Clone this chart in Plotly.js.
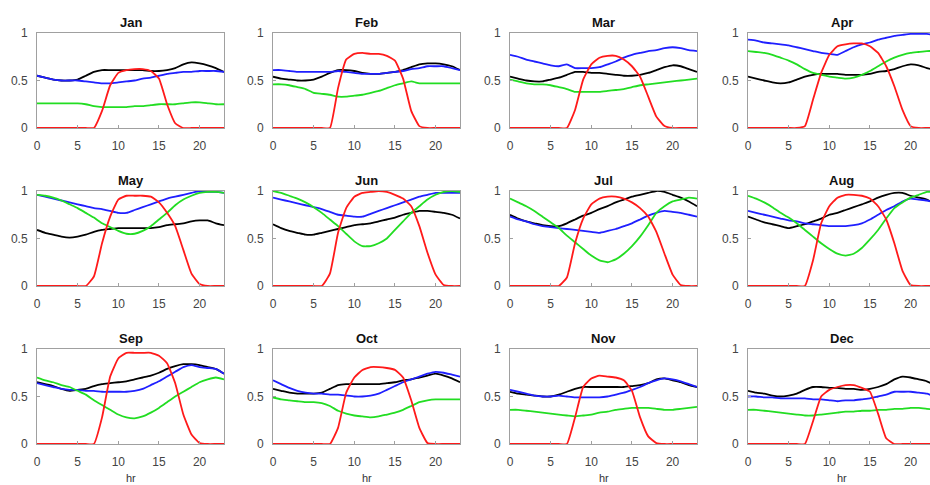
<!DOCTYPE html>
<html>
<head>
<meta charset="utf-8">
<script src="https://cdn.plot.ly/plotly-3.0.1.min.js"></script>
<style>
html,body{margin:0;padding:0;overflow:hidden;background:#fff;}
#chart{width:940px;height:485px;}
</style>
</head>
<body>
<div id="chart"></div>
<script>
const hours = [0,1,2,3,4,5,6,7,8,9,10,11,12,13,14,15,16,17,18,19,20,21,22,23];
const months = ['Jan','Feb','Mar','Apr','May','Jun','Jul','Aug','Sep','Oct','Nov','Dec'];
const xTicks = [0,5,10,15,20];
const yTicks = [0,0.5,1];
const yTickText = ['0','0.5','1'];
const xLabel = 'hr';

const jan_black = [0.55,0.53,0.51,0.50,0.50,0.51,0.55,0.59,0.61,0.61,0.61,0.61,0.61,0.61,0.60,0.60,0.61,0.63,0.67,0.69,0.68,0.66,0.63,0.59];
const jan_blue  = [0.55,0.53,0.51,0.50,0.50,0.50,0.49,0.48,0.47,0.47,0.48,0.49,0.50,0.52,0.53,0.55,0.57,0.58,0.59,0.59,0.60,0.60,0.60,0.59];
const jan_green = [0.26,0.26,0.26,0.26,0.26,0.26,0.25,0.23,0.22,0.22,0.22,0.22,0.23,0.23,0.24,0.25,0.25,0.25,0.26,0.27,0.27,0.26,0.25,0.25];
const jan_red   = [0,0,0,0,0,0,0,0,0.18,0.45,0.58,0.61,0.62,0.62,0.60,0.52,0.25,0.05,0,0,0,0,0,0];

const feb_black = [0.54,0.52,0.51,0.50,0.50,0.51,0.54,0.58,0.61,0.61,0.60,0.58,0.57,0.57,0.58,0.59,0.61,0.64,0.67,0.68,0.68,0.67,0.65,0.61];
const feb_blue  = [0.61,0.61,0.60,0.59,0.59,0.59,0.59,0.59,0.60,0.59,0.58,0.57,0.57,0.57,0.58,0.59,0.60,0.62,0.63,0.65,0.65,0.65,0.63,0.61];
const feb_green = [0.46,0.46,0.45,0.43,0.41,0.37,0.36,0.35,0.33,0.33,0.34,0.35,0.37,0.39,0.42,0.45,0.47,0.49,0.47,0.47,0.47,0.47,0.47,0.47];
const feb_red   = [0,0,0,0,0,0,0,0,0.42,0.72,0.78,0.79,0.78,0.78,0.76,0.71,0.52,0.18,0.02,0,0,0,0,0];

const mar_black = [0.54,0.52,0.50,0.49,0.49,0.51,0.53,0.56,0.59,0.59,0.58,0.58,0.57,0.56,0.55,0.55,0.56,0.58,0.61,0.64,0.66,0.65,0.62,0.59];
const mar_blue  = [0.77,0.75,0.72,0.70,0.68,0.66,0.65,0.67,0.63,0.63,0.63,0.64,0.67,0.70,0.74,0.77,0.79,0.81,0.82,0.84,0.85,0.84,0.82,0.81];
const mar_green = [0.51,0.49,0.47,0.46,0.46,0.45,0.43,0.41,0.38,0.38,0.38,0.38,0.39,0.40,0.41,0.43,0.45,0.46,0.47,0.48,0.49,0.50,0.51,0.52];
const mar_red   = [0,0,0,0,0,0,0,0,0.19,0.51,0.67,0.74,0.76,0.76,0.72,0.65,0.54,0.33,0.12,0.02,0,0,0,0];

const apr_black = [0.54,0.52,0.50,0.48,0.47,0.48,0.51,0.54,0.56,0.57,0.57,0.57,0.56,0.56,0.56,0.57,0.59,0.60,0.62,0.65,0.67,0.66,0.63,0.61];
const apr_blue  = [0.93,0.92,0.90,0.89,0.88,0.87,0.85,0.83,0.81,0.79,0.78,0.77,0.81,0.85,0.88,0.90,0.93,0.95,0.97,0.98,0.99,0.99,0.99,0.98];
const apr_green = [0.81,0.80,0.79,0.77,0.74,0.71,0.67,0.62,0.58,0.56,0.54,0.53,0.52,0.53,0.56,0.60,0.65,0.70,0.74,0.77,0.79,0.80,0.81,0.81];
const apr_red   = [0,0,0,0,0,0,0,0.02,0.30,0.58,0.77,0.86,0.88,0.89,0.89,0.86,0.79,0.65,0.44,0.19,0.02,0,0,0];

const may_black = [0.59,0.56,0.54,0.52,0.51,0.52,0.54,0.57,0.59,0.60,0.61,0.61,0.61,0.61,0.61,0.62,0.64,0.65,0.66,0.68,0.69,0.69,0.66,0.64];
const may_blue  = [0.96,0.94,0.92,0.90,0.88,0.86,0.84,0.82,0.81,0.79,0.77,0.77,0.80,0.83,0.86,0.89,0.92,0.94,0.96,0.98,1.00,0.99,0.99,0.98];
const may_green = [0.96,0.95,0.93,0.90,0.86,0.82,0.77,0.72,0.66,0.62,0.58,0.55,0.55,0.58,0.63,0.70,0.77,0.85,0.91,0.95,0.98,0.99,0.99,0.98];
const may_red   = [0,0,0,0,0,0,0,0.10,0.45,0.73,0.91,0.95,0.95,0.95,0.94,0.88,0.77,0.63,0.38,0.13,0.02,0,0,0];

const jun_black = [0.65,0.61,0.58,0.56,0.54,0.54,0.56,0.58,0.60,0.62,0.64,0.65,0.66,0.68,0.70,0.72,0.75,0.77,0.79,0.79,0.78,0.77,0.75,0.71];
const jun_blue  = [0.93,0.91,0.89,0.87,0.85,0.83,0.81,0.78,0.75,0.74,0.73,0.73,0.76,0.79,0.82,0.85,0.88,0.91,0.94,0.96,0.98,0.98,0.98,0.98];
const jun_green = [1.00,0.98,0.95,0.92,0.88,0.83,0.77,0.70,0.63,0.55,0.47,0.42,0.42,0.45,0.50,0.59,0.68,0.77,0.84,0.91,0.96,0.99,1.00,0.99];
const jun_red   = [0,0,0,0,0,0,0,0.13,0.56,0.82,0.94,0.98,0.99,1.00,0.99,0.96,0.92,0.84,0.63,0.35,0.12,0.01,0,0];

const jul_black = [0.75,0.71,0.68,0.66,0.64,0.63,0.63,0.66,0.70,0.74,0.77,0.81,0.84,0.88,0.91,0.94,0.96,0.98,1.00,0.99,0.96,0.93,0.89,0.84];
const jul_blue  = [0.73,0.70,0.68,0.65,0.63,0.62,0.61,0.60,0.59,0.58,0.57,0.56,0.58,0.60,0.63,0.66,0.70,0.74,0.77,0.79,0.78,0.77,0.75,0.73];
const jul_green = [0.92,0.88,0.84,0.79,0.73,0.67,0.61,0.53,0.46,0.39,0.32,0.27,0.25,0.28,0.34,0.42,0.52,0.64,0.77,0.84,0.89,0.91,0.93,0.92];
const jul_red   = [0,0,0,0,0,0,0,0.09,0.45,0.71,0.86,0.92,0.94,0.94,0.92,0.88,0.82,0.73,0.57,0.34,0.12,0.01,0,0];

const aug_black = [0.73,0.70,0.67,0.65,0.63,0.61,0.63,0.65,0.68,0.71,0.75,0.77,0.80,0.83,0.86,0.89,0.93,0.96,0.98,0.98,0.95,0.93,0.91,0.86];
const aug_blue  = [0.79,0.77,0.75,0.73,0.71,0.69,0.68,0.66,0.65,0.64,0.63,0.63,0.63,0.64,0.66,0.70,0.75,0.80,0.84,0.89,0.92,0.91,0.90,0.88];
const aug_green = [0.95,0.92,0.88,0.83,0.77,0.72,0.66,0.59,0.52,0.45,0.39,0.34,0.32,0.34,0.40,0.49,0.59,0.71,0.82,0.88,0.93,0.96,0.99,0.99];
const aug_red   = [0,0,0,0,0,0,0,0,0.27,0.66,0.84,0.93,0.96,0.96,0.95,0.92,0.84,0.70,0.45,0.16,0.01,0,0,0];

const sep_black = [0.65,0.63,0.61,0.58,0.56,0.57,0.58,0.61,0.63,0.64,0.65,0.66,0.68,0.70,0.72,0.75,0.79,0.82,0.84,0.84,0.83,0.81,0.79,0.74];
const sep_blue  = [0.64,0.62,0.60,0.58,0.57,0.57,0.56,0.56,0.55,0.55,0.55,0.55,0.56,0.58,0.62,0.66,0.71,0.76,0.81,0.83,0.81,0.80,0.79,0.74];
const sep_green = [0.70,0.67,0.65,0.62,0.60,0.56,0.52,0.46,0.41,0.36,0.31,0.28,0.27,0.29,0.33,0.38,0.44,0.50,0.55,0.60,0.65,0.68,0.70,0.68];
const sep_red   = [0,0,0,0,0,0,0,0,0.28,0.71,0.90,0.96,0.96,0.96,0.96,0.93,0.85,0.64,0.31,0.10,0.01,0,0,0];

const oct_black = [0.58,0.56,0.54,0.53,0.53,0.53,0.54,0.58,0.62,0.63,0.63,0.63,0.63,0.63,0.64,0.65,0.67,0.68,0.70,0.72,0.74,0.72,0.69,0.65];
const oct_blue  = [0.67,0.63,0.59,0.56,0.54,0.53,0.53,0.52,0.52,0.51,0.50,0.50,0.51,0.53,0.57,0.61,0.65,0.68,0.71,0.74,0.76,0.75,0.73,0.71];
const oct_green = [0.49,0.47,0.46,0.45,0.44,0.44,0.43,0.40,0.35,0.32,0.30,0.29,0.28,0.29,0.31,0.33,0.36,0.40,0.44,0.46,0.47,0.47,0.47,0.47];
const oct_red   = [0,0,0,0,0,0,0,0,0.17,0.54,0.70,0.78,0.81,0.81,0.80,0.78,0.70,0.46,0.17,0.01,0,0,0,0];

const nov_black = [0.55,0.53,0.52,0.51,0.50,0.50,0.52,0.55,0.58,0.60,0.60,0.60,0.60,0.60,0.60,0.61,0.62,0.64,0.68,0.69,0.67,0.65,0.62,0.60];
const nov_blue  = [0.57,0.55,0.53,0.51,0.50,0.50,0.51,0.50,0.49,0.49,0.49,0.49,0.50,0.52,0.54,0.57,0.60,0.64,0.67,0.69,0.68,0.66,0.63,0.60];
const nov_green = [0.36,0.36,0.35,0.34,0.33,0.32,0.31,0.30,0.29,0.30,0.31,0.33,0.34,0.36,0.37,0.38,0.38,0.38,0.37,0.36,0.36,0.37,0.38,0.39];
const nov_red   = [0,0,0,0,0,0,0,0,0.28,0.60,0.69,0.72,0.71,0.70,0.67,0.56,0.28,0.08,0.01,0,0,0,0,0];

const dec_black = [0.56,0.54,0.53,0.51,0.50,0.51,0.53,0.57,0.60,0.60,0.59,0.59,0.58,0.58,0.57,0.58,0.60,0.63,0.68,0.71,0.70,0.68,0.66,0.62];
const dec_blue  = [0.50,0.50,0.49,0.49,0.48,0.48,0.48,0.48,0.47,0.47,0.46,0.45,0.46,0.46,0.47,0.48,0.50,0.52,0.55,0.55,0.55,0.54,0.53,0.50];
const dec_green = [0.36,0.36,0.35,0.34,0.33,0.32,0.31,0.30,0.30,0.31,0.32,0.33,0.34,0.34,0.35,0.35,0.36,0.36,0.37,0.37,0.38,0.38,0.37,0.36];
const dec_red   = [0,0,0,0,0,0,0,0,0.24,0.50,0.57,0.60,0.62,0.62,0.59,0.55,0.32,0.06,0,0,0,0,0,0];

const blackSeries = [jan_black,feb_black,mar_black,apr_black,may_black,jun_black,jul_black,aug_black,sep_black,oct_black,nov_black,dec_black];
const blueSeries  = [jan_blue,feb_blue,mar_blue,apr_blue,may_blue,jun_blue,jul_blue,aug_blue,sep_blue,oct_blue,nov_blue,dec_blue];
const greenSeries = [jan_green,feb_green,mar_green,apr_green,may_green,jun_green,jul_green,aug_green,sep_green,oct_green,nov_green,dec_green];
const redSeries   = [jan_red,feb_red,mar_red,apr_red,may_red,jun_red,jul_red,aug_red,sep_red,oct_red,nov_red,dec_red];

const W = 940, H = 485;
const colLeft = [37, 273, 510, 748];
const plotW = 187;
const rowTop = [33, 191, 349];
const plotH = 95;

const seriesDefs = [
  {data: blackSeries, color: '#000000'},
  {data: blueSeries,  color: '#1f1fff'},
  {data: greenSeries, color: '#22dd22'},
  {data: redSeries,   color: '#ff1a1a'}
];

const traces = [];
const layout = {
  width: W, height: H,
  margin: {l:0, r:0, t:0, b:0},
  paper_bgcolor: '#ffffff',
  plot_bgcolor: '#ffffff',
  showlegend: false,
  font: {family: 'Liberation Sans, Arial, sans-serif', size: 12, color: '#444'},
  annotations: []
};

months.forEach((m, i) => {
  const r = Math.floor(i / 4), c = i % 4;
  const n = i + 1;
  const xa = n === 1 ? 'x' : 'x' + n;
  const ya = n === 1 ? 'y' : 'y' + n;
  const xk = n === 1 ? 'xaxis' : 'xaxis' + n;
  const yk = n === 1 ? 'yaxis' : 'yaxis' + n;
  seriesDefs.forEach(s => {
    traces.push({
      x: hours, y: s.data[i], xaxis: xa, yaxis: ya,
      type: 'scatter', mode: 'lines',
      line: {color: s.color, width: 1.8, shape: 'spline', smoothing: 0.4},
      hoverinfo: 'skip'
    });
  });
  const x0 = colLeft[c] / W, x1 = (colLeft[c] + plotW) / W;
  const yTopFrac = 1 - rowTop[r] / H, yBotFrac = 1 - (rowTop[r] + plotH) / H;
  const common = {
    showgrid: false, zeroline: false, showline: true, mirror: true,
    linecolor: '#a0a0a0', linewidth: 1,
    ticks: 'inside', ticklen: 3, tickcolor: '#a0a0a0',
    tickfont: {family: 'Liberation Sans, Arial, sans-serif', size: 12, color: '#444'},
    fixedrange: true
  };
  layout[xk] = Object.assign({}, common, {
    domain: [x0, x1], range: [0, 23], anchor: ya,
    tickmode: 'array', tickvals: xTicks, ticklabelstandoff: 7
  });
  layout[yk] = Object.assign({}, common, {
    domain: [yBotFrac, yTopFrac], range: [0, 1], anchor: xa,
    tickmode: 'array', tickvals: yTicks, ticktext: yTickText, ticklabelstandoff: 6
  });
  layout.annotations.push({
    text: '<b>' + m + '</b>', showarrow: false,
    xref: xa + ' domain', yref: ya + ' domain', x: 0.5, y: 1,
    xanchor: 'center', yanchor: 'bottom', yshift: 1,
    font: {family: 'Liberation Sans, Arial, sans-serif', size: 13, color: '#111'}
  });
  if (r === 2) {
    layout.annotations.push({
      text: xLabel, showarrow: false,
      xref: xa + ' domain', yref: 'paper', x: 0.5, y: 1 - 478 / H,
      xanchor: 'center', yanchor: 'middle',
      font: {family: 'Liberation Sans, Arial, sans-serif', size: 11, color: '#333333'}
    });
  }
});

Plotly.newPlot('chart', traces, layout, {displayModeBar: false, staticPlot: true});
</script>
</body>
</html>
